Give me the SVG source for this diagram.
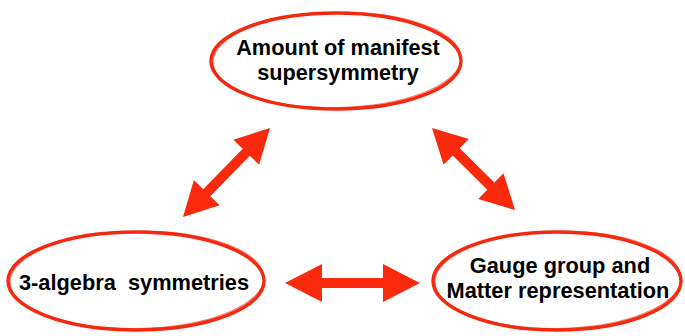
<svg xmlns="http://www.w3.org/2000/svg" width="685" height="336" viewBox="0 0 685 336">
<style>
.ell{fill:none;stroke:#f4290f;stroke-width:3.4}
.ell2{fill:none;stroke:#f4290f;stroke-width:1.2;opacity:0.6}
.lbl{font-family:"Liberation Sans",Arial,sans-serif;font-weight:bold;fill:#000;text-anchor:middle}
.arr{fill:#fb2a0c}
</style>
<rect width="685" height="336" fill="#fff"/>
<g id="node-susy">
<ellipse class="ell" cx="336" cy="61" rx="125" ry="48"/>
<ellipse class="ell2" cx="337" cy="60" rx="124" ry="47.5" transform="rotate(-1 337 60)"/>
<text class="lbl" x="338" y="55" font-size="21.7">Amount of manifest</text>
<text class="lbl" x="338" y="80" font-size="21.7">supersymmetry</text>
</g>
<g id="node-3alg">
<ellipse class="ell" cx="136" cy="281" rx="128" ry="49"/>
<ellipse class="ell2" cx="137" cy="280" rx="127" ry="48.5" transform="rotate(-1 137 280)"/>
<text class="lbl" x="134" y="290" font-size="21.8" xml:space="preserve">3-algebra  symmetries</text>
</g>
<g id="node-gauge">
<ellipse class="ell" cx="557" cy="281" rx="124" ry="49"/>
<ellipse class="ell2" cx="558" cy="280" rx="123" ry="48.5" transform="rotate(-1 558 280)"/>
<text class="lbl" x="560" y="273" font-size="21.8">Gauge group and</text>
<text class="lbl" x="558" y="298" font-size="21.8">Matter representation</text>
</g>
<g id="connectors">
<path class="arr" transform="translate(285,283)" d="M0,0 L37,-19 L37,-5 L98,-5 L98,-19 L135,0 L98,19 L98,5 L37,5 L37,19 Z"/>
<path class="arr" transform="translate(183,217) rotate(-45.65)" d="M0,0 L34,-18 L34,-5 L90.5,-5 L90.5,-18 L124.5,0 L90.5,18 L90.5,5 L34,5 L34,18 Z"/>
<path class="arr" transform="translate(432,128) rotate(44.65)" d="M0,0 L34,-18 L34,-5 L82.7,-5 L82.7,-18 L116.7,0 L82.7,18 L82.7,5 L34,5 L34,18 Z"/>
</g>
</svg>
